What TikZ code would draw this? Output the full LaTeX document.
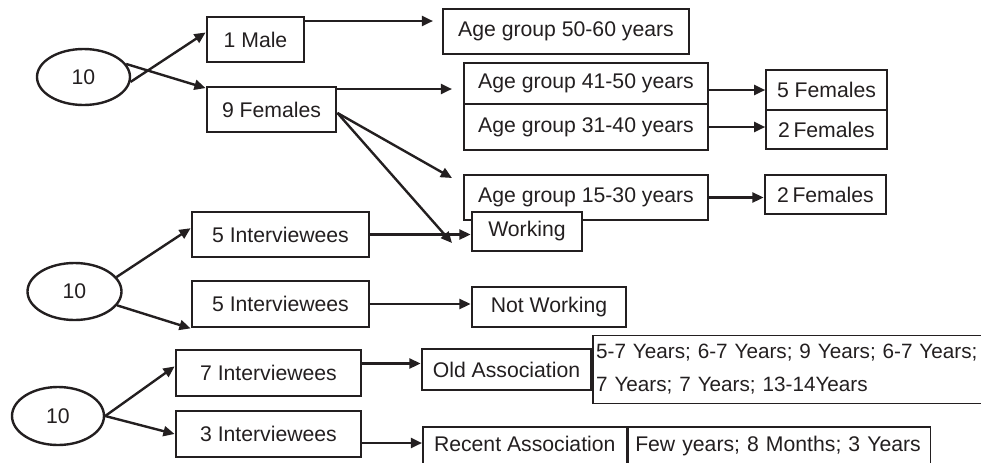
\documentclass[tikz,border=0pt]{standalone}
\usepackage{fontspec}
\setmainfont{Liberation Sans}
\usetikzlibrary{positioning,arrows.meta,shapes.geometric,calc}
\definecolor{cInk}{HTML}{231F20}
\tikzset{
  blk/.style={draw=cInk, line width=1.4pt, align=center, inner sep=0pt,
              fill=white, text=cInk, font=\fontsize{10.6}{13}\selectfont},
  thinb/.style={blk, line width=0.75pt},
  grp/.style={ellipse, draw=cInk, line width=1.2pt, inner sep=0pt,
              text=cInk, font=\fontsize{10.6}{13}\selectfont},
  ar/.style={-{Triangle[length=5.6pt,width=5pt]}, line width=1.2pt, cInk},
}

\begin{document}
\begin{tikzpicture}[x=0.5pt, y=-0.5pt]
  \useasboundingbox (0,0) rectangle (981,462);
  % sample groups
  \node[grp, minimum width=46.5pt, minimum height=28pt] (e1) at (83.5,77) {10};
  \node[grp, minimum width=47pt, minimum height=28.5pt] (e2) at (74.5,291.5) {10};
  \node[grp, minimum width=46pt, minimum height=29pt] (e3) at (58,416) {10};
  % gender and age
  \node[blk, minimum width=48.5pt, minimum height=22.5pt] (male) at (255.5,39.5) {1 Male};
  \node[blk, minimum width=64.5pt, minimum height=22.5pt] (fem9) at (271.5,109.5) {9 Females};
  \node[blk, minimum width=123pt, minimum height=22.5pt] (age5060) at (566,31.5) {Age group 50-60 years};
  \node[blk, minimum width=122pt, minimum height=20.5pt] (age4150) at (586,83.5) {Age group 41-50 years};
  \node[blk, minimum width=122pt, minimum height=23pt] (age3140) at (586,127) {Age group 31-40 years};
  \node[blk, minimum width=122pt, minimum height=22.5pt] (age1530) at (586,197.5) {Age group 15-30 years};
  \node[blk, minimum width=55pt, minimum height=19.5pt] (working) at (527,231.5) {Working};
  \node[blk, minimum width=77pt, minimum height=20pt] (notwork) at (549,307) {Not Working};
  \node[thinb, minimum width=60.5pt, minimum height=20pt] (fem5) at (826.5,90) {5 Females};
  \node[thinb, minimum width=60.5pt, minimum height=19.5pt] (fem2a) at (826.5,129.5) {2\,Females};
  \node[blk, minimum width=60.5pt, minimum height=19.5pt] (fem2b) at (825.5,194.5) {2\,Females};
  % interviewees
  \node[blk, minimum width=88.5pt, minimum height=22.5pt] (int5a) at (280.5,234.5) {5 Interviewees};
  \node[blk, minimum width=88.5pt, minimum height=23pt] (int5b) at (280.5,304) {5 Interviewees};
  \node[blk, minimum width=92.5pt, minimum height=23pt] (int7) at (268.5,373) {7 Interviewees};
  \node[blk, minimum width=92.5pt, minimum height=23pt] (int3) at (268.5,434) {3 Interviewees};
  % association
  \node[blk, minimum width=84.5pt, minimum height=20.5pt] (oldassoc) at (506.5,369.5) {Old Association};
  \node[thinb, anchor=west, minimum height=34pt, text width=196pt, inner xsep=1.5pt,
        align=left, font=\fontsize{10.35}{16.5}\selectfont] (oldyrs) at (oldassoc.east)
       {5-7 Years; 6-7 Years; 9 Years; 6-7 Years;\\7 Years; 7 Years; 13-14Years};
  \node[thinb, anchor=north west, minimum width=102pt, text height=12.3pt, text depth=8.7pt]
       (recent) at (422,426) {Recent Association};
  \node[thinb, anchor=north west, text width=144pt, inner xsep=3.5pt, align=left,
        text height=12.3pt, text depth=8.7pt] (recentyrs) at (recent.north east)
       {Few years; 8 Months; 3 Years};
  % free arrow ends
  \coordinate (m1) at (433,21);
  \coordinate (f1) at (452,89);
  \coordinate (f2) at (452,178);
  \coordinate (f3) at (452,243);
  % connectors
  \draw[ar] (e1.-6) -- (male.172);
  \draw[ar] (e1.17) -- (fem9.162);
  \draw[ar] (male.east |- m1) -- (m1);
  \draw[ar] (fem9.east |- f1) -- (f1);
  \draw[ar] (fem9.-3) -- (f2);
  \draw[ar] (fem9.-3) -- (f3);
  \draw[ar] (age4150.east |- fem5) -- (fem5.west);
  \draw[ar] (age3140.east) -- (age3140.east -| fem2a.west);
  \draw[ar] (age1530.east) -- (age1530.east -| fem2b.west);
  \draw[ar] (e2.19) -- (int5a.176);
  \draw[ar] (e2.-18) -- (int5b.south west);
  \draw[ar] (int5a.east) -- (int5a.east -| working.west);
  \draw[ar] (int5b.east) -- (int5b.east -| notwork.west);
  \draw[ar] (e3.east) -- (int7.176);
  \draw[ar] (e3.east) -- (int3.west);
  \draw[ar] ([yshift=3pt]oldassoc.west -| int7.east) -- ([yshift=3pt]oldassoc.west);
  \draw[ar] ([yshift=-4.5pt]int3.east) -- ([yshift=-4.5pt]int3.east -| recent.west);
\end{tikzpicture}
\end{document}
